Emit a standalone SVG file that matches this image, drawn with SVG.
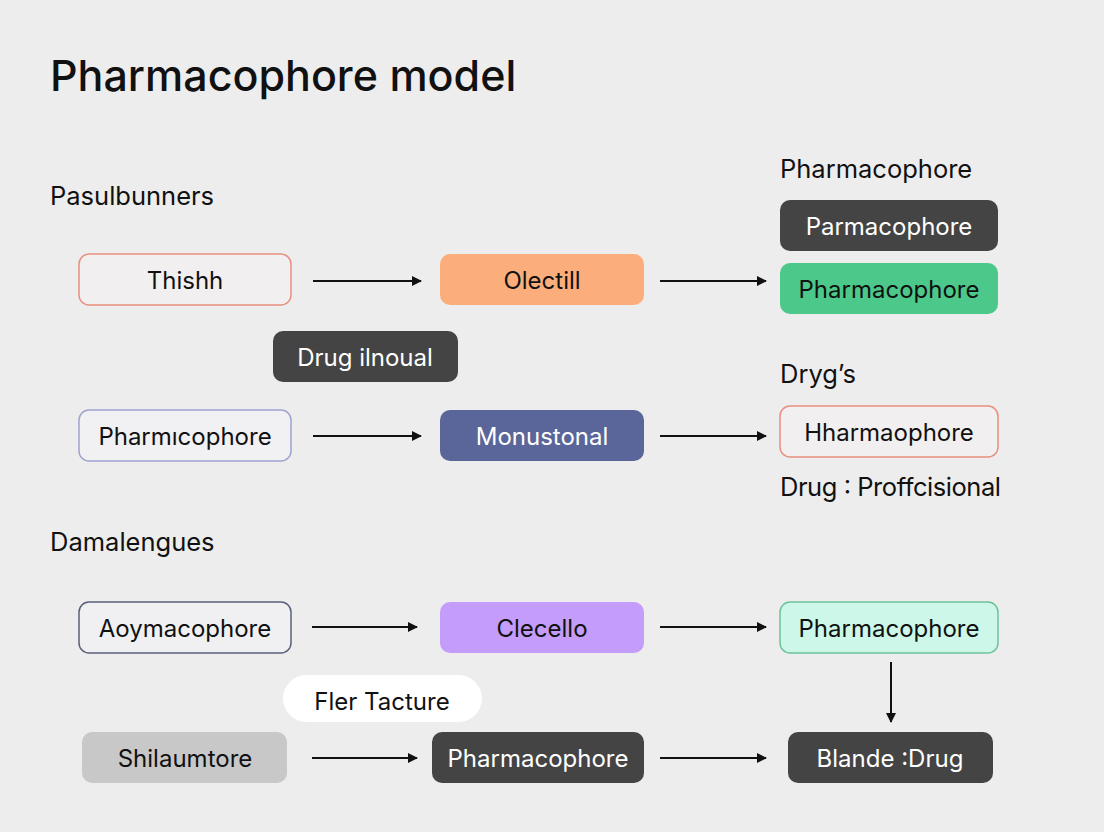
<svg xmlns="http://www.w3.org/2000/svg" width="1104" height="832" viewBox="0 0 1104 832">
<style>
text{font-family:Inter,"Noto Sans","Liberation Sans",sans-serif;fill:#111}
.t{font-size:24px;text-anchor:middle;dominant-baseline:central}
.w{fill:#fff}
.h{font-size:25.5px}
.c{stroke:#111;stroke-width:2;fill:none;marker-end:url(#ah)}
</style>
<defs>
<marker id="ah" viewBox="0 0 10 10" refX="9" refY="5" markerWidth="5" markerHeight="5" orient="auto" markerUnits="strokeWidth"><path d="M0,0 L10,5 L0,10 z" fill="#111"/></marker>
</defs>
<rect width="1104" height="832" fill="#ededed"/>
<text x="50" y="91" font-size="43" font-weight="500">Pharmacophore model</text>
<text class="h" x="50" y="205">Pasulbunners</text>
<text class="h" x="50" y="551">Damalengues</text>
<text class="h" x="780" y="178">Pharmacophore</text>
<text class="h" x="780" y="383">Dryg’s</text>
<text class="h" x="780" y="496" textLength="221" lengthAdjust="spacing">Drug : Proffcisional</text>

<g id="connectors">
<line class="c" x1="313" y1="281" x2="421" y2="281"/>
<line class="c" x1="660" y1="281" x2="766" y2="281"/>
<line class="c" x1="313" y1="436" x2="421" y2="436"/>
<line class="c" x1="660" y1="436" x2="766" y2="436"/>
<line class="c" x1="312" y1="627" x2="417" y2="627"/>
<line class="c" x1="660" y1="627" x2="766" y2="627"/>
<line class="c" x1="891" y1="662" x2="891" y2="722"/>
<line class="c" x1="312" y1="758" x2="417" y2="758"/>
<line class="c" x1="660" y1="758" x2="766" y2="758"/>
</g>

<g id="n-thishh"><rect x="79" y="254" width="212" height="51" rx="10" fill="#f1efef" stroke="#e8907f" stroke-width="1.5"/><text class="t" x="185" y="280">Thishh</text></g>
<g id="n-olectill"><rect x="440" y="254" width="204" height="51" rx="10" fill="#fbae7b"/><text class="t" x="542" y="280">Olectill</text></g>
<g id="n-parmacophore"><rect x="780" y="200" width="218" height="51" rx="10" fill="#444"/><text class="t w" x="889" y="226">Parmacophore</text></g>
<g id="n-pharma-green"><rect x="780" y="263" width="218" height="51" rx="10" fill="#4cc98a"/><text class="t" x="889" y="289">Pharmacophore</text></g>
<g id="n-drug-ilnoual"><rect x="273" y="331" width="185" height="51" rx="10" fill="#444"/><text class="t w" x="365" y="357">Drug ilnoual</text></g>
<g id="n-pharmicophore"><rect x="79" y="410" width="212" height="51" rx="10" fill="#f1f0f3" stroke="#9ea3cf" stroke-width="1.5"/><text class="t" x="185" y="436">Pharmıcophore</text></g>
<g id="n-monustonal"><rect x="440" y="410" width="204" height="51" rx="10" fill="#5a6699"/><text class="t w" x="542" y="436">Monustonal</text></g>
<g id="n-hharmaophore"><rect x="780" y="406" width="218" height="51" rx="10" fill="#f1efef" stroke="#e8907f" stroke-width="1.5"/><text class="t" x="889" y="432">Hharmaophore</text></g>
<g id="n-aoymacophore"><rect x="79" y="602" width="212" height="51" rx="10" fill="#f0f0f2" stroke="#5a6078" stroke-width="1.5"/><text class="t" x="185" y="628">Aoymacophore</text></g>
<g id="n-clecello"><rect x="440" y="602" width="204" height="51" rx="10" fill="#c49cfa"/><text class="t" x="542" y="628">Clecello</text></g>
<g id="n-pharma-mint"><rect x="780" y="602" width="218" height="51" rx="10" fill="#cdf7e8" stroke="#6cc39a" stroke-width="1.5"/><text class="t" x="889" y="628">Pharmacophore</text></g>
<g id="n-fler"><rect x="283" y="675" width="199" height="47" rx="23.5" fill="#fff"/><text class="t" x="382" y="701">Fler Tacture</text></g>
<g id="n-shilaumtore"><rect x="82" y="732" width="205" height="51" rx="10" fill="#c8c8c8"/><text class="t" x="185" y="758">Shilaumtore</text></g>
<g id="n-pharma-dark"><rect x="432" y="732" width="212" height="51" rx="10" fill="#444"/><text class="t w" x="538" y="758">Pharmacophore</text></g>
<g id="n-blande"><rect x="788" y="732" width="205" height="51" rx="10" fill="#444"/><text class="t w" x="890" y="758">Blande :Drug</text></g>
</svg>
